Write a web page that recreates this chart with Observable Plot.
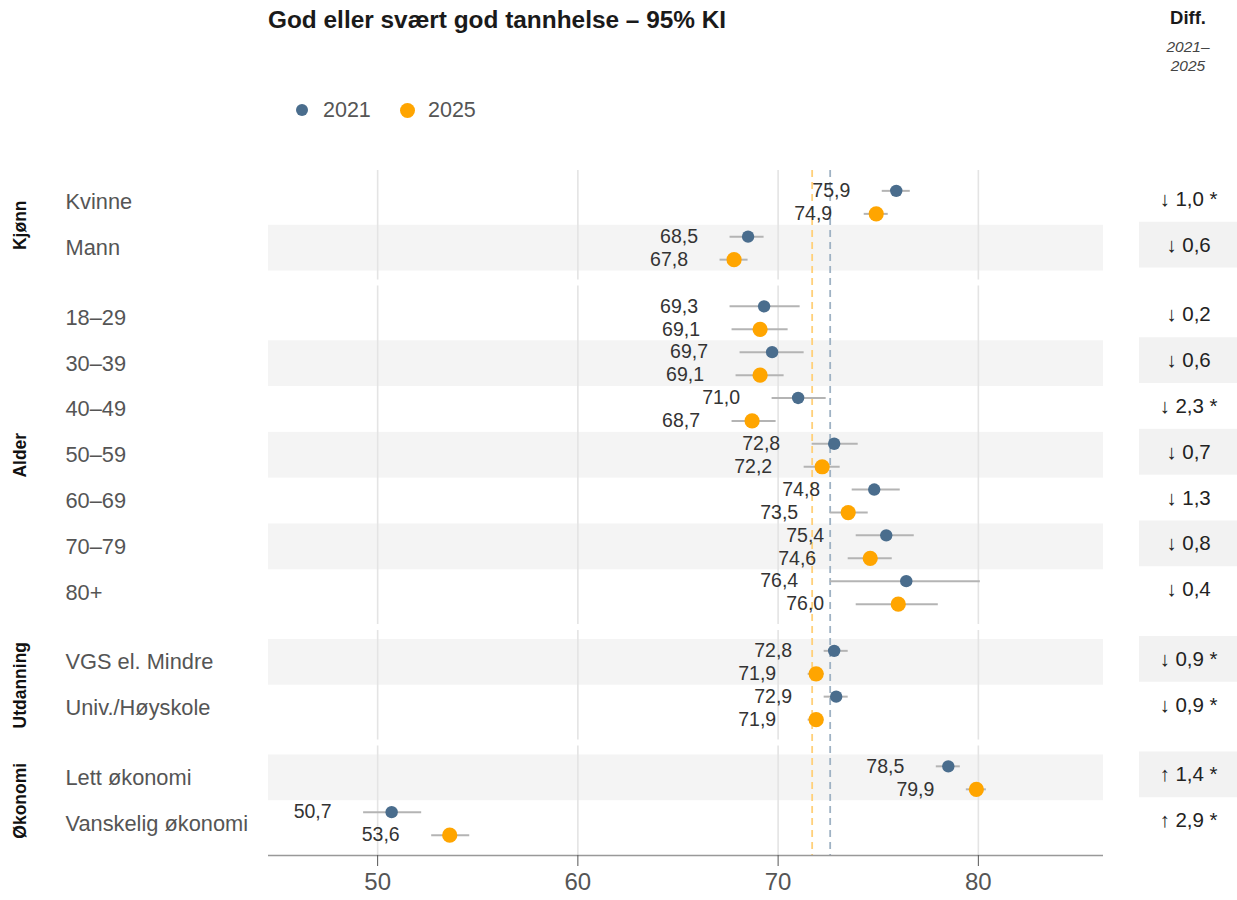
<!DOCTYPE html>
<html>
<head>
<meta charset="utf-8">
<script src="https://cdn.jsdelivr.net/npm/d3@7"></script>
<script src="https://cdn.jsdelivr.net/npm/@observablehq/plot@0.6"></script>
<style>
  body { margin: 0; background: #fff; font-family: "Liberation Sans", Arial, sans-serif; }
  #wrap { position: relative; width: 1237px; height: 900px; overflow: hidden; }
  .abs { position: absolute; white-space: nowrap; }
  #title { left: 268px; top: 6px; font-size: 24.4px; font-weight: bold; color: #1a1a1a; line-height: 28px; }
  .leg-dot { position: absolute; border-radius: 50%; }
  .leg-txt { position: absolute; font-size: 21.5px; color: #555; line-height: 24px; }
  .dhead { left: 1138px; width: 100px; text-align: center; }
  #main { position: absolute; left: 0; top: 150px; }
  #diff { position: absolute; left: 1110px; top: 147px; }
</style>
</head>
<body>
<div id="wrap">
  <div id="title" class="abs">God eller svært god tannhelse – 95% KI</div>
  <div id="legend"></div>
  <div class="abs dhead" style="top:6px;font-size:18.5px;font-weight:bold;color:#1a1a1a;line-height:24px;">Diff.</div>
  <div class="abs dhead" style="top:37px;font-size:15.5px;font-style:italic;color:#444;line-height:19px;">2021–<br>2025</div>
  <div id="main"></div>
  <div id="diff"></div>
</div>
<script>
// ---------- data ----------
const groups = ["Kjønn", "Alder", "Utdanning", "Økonomi"];
const categories = ["Kvinne", "Mann", "18–29", "30–39", "40–49", "50–59", "60–69", "70–79", "80+",
  "VGS el. Mindre", "Univ./Høyskole", "Lett økonomi", "Vanskelig økonomi"];
const categoryGroup = ["Kjønn", "Kjønn", "Alder", "Alder", "Alder", "Alder", "Alder", "Alder", "Alder",
  "Utdanning", "Utdanning", "Økonomi", "Økonomi"];
const years = ["2021", "2025"];
const yearColors = ["#4a6d8d", "#ffa500"];
const value2021 = [75.9, 68.5, 69.3, 69.7, 71.0, 72.8, 74.8, 75.4, 76.4, 72.8, 72.9, 78.5, 50.7];
const low2021   = [75.2, 67.6, 67.6, 68.1, 69.7, 71.7, 73.7, 73.9, 72.6, 72.3, 72.3, 77.9, 49.3];
const high2021  = [76.6, 69.3, 71.1, 71.3, 72.4, 74.0, 76.1, 76.8, 80.1, 73.5, 73.5, 79.1, 52.2];
const value2025 = [74.9, 67.8, 69.1, 69.1, 68.7, 72.2, 73.5, 74.6, 76.0, 71.9, 71.9, 79.9, 53.6];
const low2025   = [74.3, 67.1, 67.7, 67.9, 67.7, 71.3, 72.6, 73.5, 73.9, 71.5, 71.5, 79.4, 52.7];
const high2025  = [75.5, 68.5, 70.5, 70.3, 69.9, 73.1, 74.5, 75.7, 78.0, 72.3, 72.3, 80.4, 54.6];
const diffValues = [-1.0, -0.6, -0.2, -0.6, -2.3, -0.7, -1.3, -0.8, -0.4, -0.9, -0.9, 1.4, 2.9];
const diffSignificant = [true, false, false, false, true, false, false, false, false, true, true, true, true];
const referenceValues = [72.6, 71.7]; // overall level 2021, 2025
const xTicks = [50, 60, 70, 80];
const xDomain = [44.55, 86.25];

// ---------- layout derived from group structure ----------
const PAD = 9 / 46, GAP = 6 / 46;
const rowPos = [];
const panels = [];
let cursor = 0;
for (const g of groups) {
  const idx = categories.map((c, i) => i).filter(i => categoryGroup[i] === g);
  const start = cursor;
  idx.forEach((i, k) => rowPos[i] = start + PAD + k + 0.5);
  const end = start + 2 * PAD + idx.length;
  panels.push({group: g, start, end, mid: (start + end) / 2});
  cursor = end + GAP;
}
const total = cursor - GAP;

const rows = categories.map((c, i) => ({
  cat: c, group: categoryGroup[i], pos: rowPos[i], top: rowPos[i] - 0.5, bottom: rowPos[i] + 0.5,
  shaded: i % 2 === 1, diff: diffValues[i], sig: diffSignificant[i]
}));
const pts2021 = categories.map((c, i) => ({pos: rowPos[i], value: value2021[i], lo: low2021[i], hi: high2021[i]}));
const pts2025 = categories.map((c, i) => ({pos: rowPos[i], value: value2025[i], lo: low2025[i], hi: high2025[i]}));
const grid = panels.flatMap(p => xTicks.map(t => ({tick: t, start: p.start, end: p.end})));
const fmt = v => d3.format(".1f")(v).replace(".", ",");

const FONT = '"Liberation Sans", "DejaVu Sans", Arial, sans-serif';
const OFF = 11.5;

const main = Plot.plot({
  width: 1110, height: 750,
  marginLeft: 268, marginRight: 7, marginTop: 20, marginBottom: 45,
  x: {domain: xDomain, label: null},
  y: {domain: [0, total], reverse: true, axis: null},
  style: {fontFamily: FONT, background: "transparent", overflow: "visible"},
  marks: [
    Plot.rect(rows.filter(r => r.shaded), {y1: "top", y2: "bottom", fill: "#f4f4f4"}),
    Plot.ruleX(grid, {x: "tick", y1: "start", y2: "end", stroke: "#e4e4e4", strokeWidth: 1.6}),
    Plot.ruleX([referenceValues[0]], {stroke: "#9fb2c4", strokeWidth: 1.8, strokeDasharray: "7,5"}),
    Plot.ruleX([referenceValues[1]], {stroke: "#ffd07a", strokeWidth: 1.8, strokeDasharray: "7,5"}),
    Plot.ruleY(pts2021, {y: "pos", x1: "lo", x2: "hi", dy: -OFF, stroke: "#b4b4b4", strokeWidth: 2}),
    Plot.ruleY(pts2025, {y: "pos", x1: "lo", x2: "hi", dy: OFF, stroke: "#b4b4b4", strokeWidth: 2}),
    Plot.dot(pts2021, {x: "value", y: "pos", dy: -OFF, r: 6.2, fill: yearColors[0], stroke: "none"}),
    Plot.dot(pts2025, {x: "value", y: "pos", dy: OFF, r: 7.6, fill: yearColors[1], stroke: "none"}),
    Plot.text(pts2021, {x: "lo", y: "pos", dy: -OFF, dx: -32, textAnchor: "end", text: d => fmt(d.value), fontSize: 19.5, fill: "#333"}),
    Plot.text(pts2025, {x: "lo", y: "pos", dy: OFF, dx: -32, textAnchor: "end", text: d => fmt(d.value), fontSize: 19.5, fill: "#333"}),
    Plot.text(rows, {y: "pos", frameAnchor: "left", dx: -203, textAnchor: "start", text: "cat", fontSize: 21.8, fill: "#555"}),
    Plot.text(panels, {y: "mid", frameAnchor: "left", dx: -248, rotate: -90, textAnchor: "middle", text: "group", fontSize: 17.5, fontWeight: "bold", fill: "#111"}),
    Plot.ruleY([total], {stroke: "#999", strokeWidth: 1.5}),
    Plot.axisX(xTicks, {tickSize: 11, tickPadding: 6, fontSize: 24, stroke: "#555", fill: "#555", label: null})
  ]
});
document.getElementById("main").appendChild(main);

const diffPlot = Plot.plot({
  width: 127, height: 750,
  marginLeft: 29, marginRight: 0, marginTop: 20, marginBottom: 45,
  x: {domain: [0, 1], axis: null},
  y: {domain: [0, total], reverse: true, axis: null},
  style: {fontFamily: FONT, background: "transparent", overflow: "visible"},
  marks: [
    Plot.rect(rows.filter(r => r.shaded), {y1: "top", y2: "bottom", fill: "#f2f2f2"}),
    Plot.text(rows, {y: "pos", frameAnchor: "middle", text: d => (d.diff < 0 ? "↓ " : "↑ ") + fmt(Math.abs(d.diff)) + (d.sig ? " *" : ""), fontSize: 20.5, fill: "#222"})
  ]
});
document.getElementById("diff").appendChild(diffPlot);

// legend
const legend = document.getElementById("legend");
const legendX = [302, 407];
years.forEach((y, i) => {
  const r = i === 0 ? 6 : 7.5;
  const dot = document.createElement("div");
  dot.className = "leg-dot";
  dot.style.cssText = `left:${legendX[i] - r}px;top:${110 - r}px;width:${2 * r}px;height:${2 * r}px;background:${yearColors[i]};`;
  legend.appendChild(dot);
  const t = document.createElement("div");
  t.className = "leg-txt";
  t.style.left = (legendX[i] + 21) + "px";
  t.style.top = (110 - 12) + "px";
  t.textContent = y;
  legend.appendChild(t);
});
</script>
</body>
</html>
